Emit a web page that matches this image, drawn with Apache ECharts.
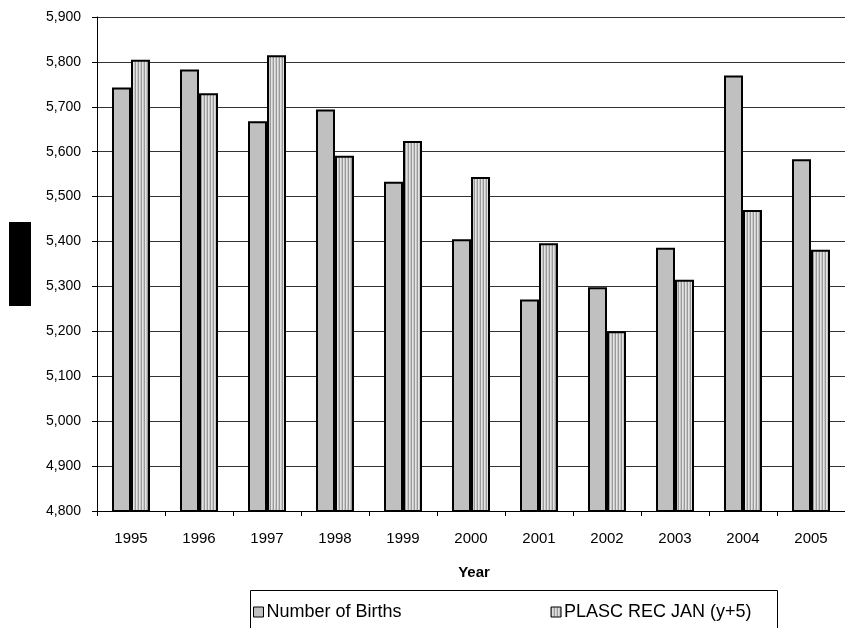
<!DOCTYPE html>
<html><head><meta charset="utf-8">
<script src="https://cdn.jsdelivr.net/npm/echarts@6/dist/echarts.min.js"></script>
<style>html,body{margin:0;padding:0;background:#fff}#c{width:845px;height:628px}</style>
</head><body><div id="c"></div>
<script>
const years = ['1995','1996','1997','1998','1999','2000','2001','2002','2003','2004','2005'];
const births = [5743,5783,5668,5694,5533,5405,5271,5298,5386,5770,5583];
const plasc = [5805,5730,5815,5591,5624,5544,5396,5200,5315,5470,5382];
const yTicks = {min:4800, max:5900, interval:100};

const pc = document.createElement('canvas');
pc.width = 3; pc.height = 4;
const ctx = pc.getContext('2d');
ctx.fillStyle = '#e4e4e4'; ctx.fillRect(0,0,3,4);
ctx.fillStyle = '#9a9a9a'; ctx.fillRect(0,0,1,4);
ctx.fillStyle = '#c8c8c8'; ctx.fillRect(2,0,1,4);

const chart = echarts.init(document.getElementById('c'), null, {renderer:'canvas'});
const font = 'Liberation Sans, Arial, sans-serif';
chart.setOption({
  animation:false,
  textStyle:{fontFamily:font},
  grid:{left:97, top:17, right:0, bottom:117, containLabel:false},
  xAxis:{type:'category', data:years,
    axisLine:{lineStyle:{color:'#000', width:1}},
    axisTick:{show:true, length:5, lineStyle:{color:'#000'}},
    axisLabel:{color:'#000', fontSize:15, margin:20, fontFamily:font},
    name:'Year', nameLocation:'middle', nameGap:54,
    nameTextStyle:{color:'#000', fontSize:15, fontWeight:'bold', fontFamily:font, padding:[0,0,0,6]}
  },
  yAxis:{type:'value', min:yTicks.min, max:yTicks.max, interval:yTicks.interval,
    axisLine:{show:true, lineStyle:{color:'#000', width:1}},
    axisTick:{show:true, length:5, lineStyle:{color:'#000'}},
    axisLabel:{color:'#000', fontSize:14, margin:16, fontFamily:font,
      formatter:v=>v.toLocaleString('en-US')},
    splitLine:{show:true, lineStyle:{color:'#333', width:1}}
  },
  legend:{left:248, top:598, itemWidth:10, itemHeight:10, itemGap:149,
    icon:'rect', padding:5,
    textStyle:{color:'#000', fontSize:18, fontFamily:font, padding:[0,0,0,-2]},
    data:[{name:'Number of Births', itemStyle:{borderWidth:1, borderColor:'#000'}},
          {name:'PLASC REC JAN (y+5)', itemStyle:{borderWidth:1, borderColor:'#000'}}]
  },
  graphic:[
    {type:'rect', shape:{x:9, y:222, width:22, height:84}, style:{fill:'#000'}},
    {type:'rect', shape:{x:250.5, y:590.5, width:527, height:60}, style:{fill:'none', stroke:'#000', lineWidth:1}}
  ],
  series:[
    {name:'Number of Births', type:'bar', data:births, barWidth:19, barGap:'0%',
      itemStyle:{color:'#c0c0c0', borderColor:'#000', borderWidth:2}},
    {name:'PLASC REC JAN (y+5)', type:'bar', data:plasc, barWidth:19, barGap:'0%',
      itemStyle:{color:{image:pc, repeat:'repeat'}, borderColor:'#000', borderWidth:2}}
  ]
});
</script></body></html>
